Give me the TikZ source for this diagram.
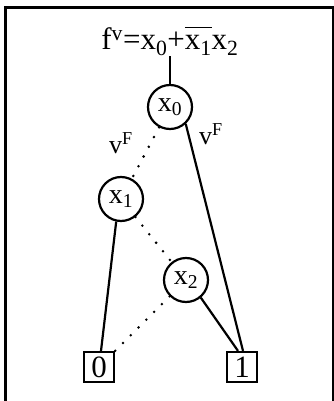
\documentclass[tikz,border=0pt]{standalone}
\usepackage{fontspec}
\setmainfont{Liberation Serif}
\begin{document}
\begin{tikzpicture}[x=1pt,y=-1pt,
  every node/.style={font=\fontsize{26}{30}\selectfont, inner sep=0pt},
  var/.style={circle, draw, line width=2.2pt, minimum size=44pt, font=\fontsize{28}{32}\selectfont},
  term/.style={draw, line width=2.2pt, minimum width=30pt, minimum height=30pt, font=\fontsize{31}{34}\selectfont},
  hi/.style={line width=2.2pt},
  lo/.style={line width=2.8pt, dash pattern=on 0pt off 11pt, line cap=round},
  lab/.style={font=\fontsize{26}{30}\selectfont}]
\useasboundingbox (0,0) rectangle (334,401);
\draw[line width=3pt] (5.7,420) -- (5.7,7.5) -- (333.5,7.5) -- (333.5,420);
\node[anchor=base, font=\fontsize{31}{34}\selectfont] (title) at (170,50) {f\textsuperscript{v}=x\textsubscript{0}+$\overline{\hbox{\vphantom{f}x\textsubscript{1}}}$x\textsubscript{2}};
\node[var] (x0) at (170,107) {x\textsubscript{0}};
\node[var] (x1) at (121,199) {x\textsubscript{1}};
\node[var] (x2) at (186,280) {x\textsubscript{2}};
\node[term] (zero) at (99,367) {0};
\node[term] (one) at (242,367) {1};
\node[lab] (l0) at (121,143) {v\textsuperscript{F}};
\node[lab] (l1) at (211,134) {v\textsuperscript{F}};
\draw[hi] (title.south) -- (x0.north);
\draw[lo] (x0) -- (x1);
\draw[hi] (x0.-47) -- ([xshift=1pt]one.north);
\draw[hi] (x1.-102) -- ([xshift=2pt]zero.north);
\draw[lo] (x1) -- (x2);
\draw[lo] (x2) -- (zero);
\draw[hi] (x2.-50) -- ([xshift=-4pt]one.north);
\end{tikzpicture}
\end{document}
